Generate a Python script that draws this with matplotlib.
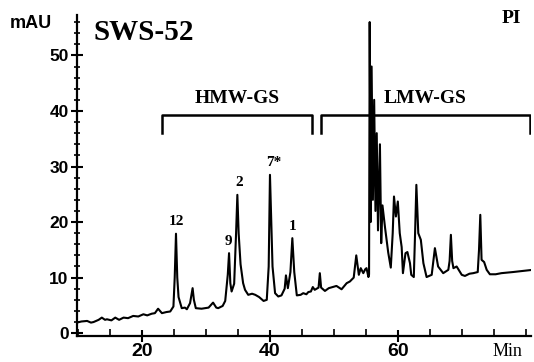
import matplotlib
matplotlib.use("Agg")
from matplotlib import pyplot as plt
from matplotlib.ticker import MultipleLocator

# retention time (min) and absorbance (mAU)
time_min = [
    9.8, 10.5, 11.4, 12.0, 12.4, 13.2, 13.7, 14.2, 14.5, 15.2, 15.8, 16.4, 17.1, 17.8,
    18.6, 19.4, 20.2, 20.8, 21.5, 22.0, 22.5, 23.1, 23.8, 24.4, 24.9, 25.1, 25.3, 25.5,
    25.7, 26.2, 26.7, 27.0, 27.5, 27.9, 28.1, 28.4, 29.3, 30.4, 31.1, 31.6, 31.9, 32.6,
    33.0, 33.4, 33.6, 33.8, 34.0, 34.4, 34.7, 34.9, 35.1, 35.4, 35.8, 36.1, 36.6, 37.2,
    37.7, 38.3, 39.0, 39.5, 39.8, 40.0, 40.2, 40.4, 40.8, 41.3, 41.8, 42.3, 42.5, 42.8,
    43.2, 43.5, 43.8, 44.2, 44.8, 45.2, 45.7, 46.0, 46.4, 46.7, 47.0, 47.6, 47.8, 48.0,
    48.6, 49.2, 49.8, 50.4, 51.2, 52.0, 52.5, 53.1, 53.5, 53.9, 54.2, 54.6, 54.9, 55.1,
    55.4, 55.5, 55.6, 55.75, 55.9, 56.1, 56.3, 56.5, 56.7, 56.9, 57.2, 57.4, 57.6, 58.0,
    58.5, 58.9, 59.2, 59.4, 59.7, 60.0, 60.3, 60.6, 60.8, 61.2, 61.5, 61.9, 62.1, 62.5,
    62.7, 62.9, 63.2, 63.6, 64.0, 64.5, 65.3, 65.8, 66.3, 67.1, 67.9, 68.1, 68.3, 68.5,
    68.7, 69.2, 70.0, 70.5, 71.2, 71.8, 72.5, 72.7, 72.9, 73.1, 73.5, 73.9, 74.4, 75.3,
    76.2, 78.0, 79.5, 81.1,
]
mau = [
    1.9, 2.1, 2.2, 1.9, 2.0, 2.4, 2.8, 2.4, 2.5, 2.3, 2.8, 2.4, 2.8, 2.7,
    3.1, 3.0, 3.4, 3.2, 3.5, 3.6, 4.4, 3.6, 3.8, 3.9, 4.8, 10.0, 17.9, 10.0,
    6.5, 4.5, 4.6, 4.3, 5.4, 8.1, 6.0, 4.5, 4.4, 4.6, 5.5, 4.6, 4.5, 4.9,
    5.8, 10.5, 14.4, 9.0, 7.5, 8.9, 18.0, 24.9, 18.0, 12.4, 9.0, 7.8, 6.9, 7.1,
    6.9, 6.5, 5.8, 6.0, 12.0, 28.5, 20.0, 12.0, 7.2, 6.6, 6.8, 8.0, 10.4, 8.1,
    11.0, 17.1, 11.0, 6.8, 6.9, 7.2, 7.0, 7.4, 7.5, 8.3, 7.8, 8.2, 10.8, 8.2,
    7.6, 8.1, 8.3, 8.5, 7.9, 9.0, 9.3, 10.0, 14.0, 10.5, 11.7, 10.8, 11.5, 11.7,
    10.1, 10.6, 56.0, 20.0, 48.0, 24.0, 42.0, 22.0, 36.0, 18.5, 34.0, 16.2, 23.0, 19.0,
    14.5, 11.8, 18.0, 24.6, 21.0, 23.7, 18.0, 15.5, 10.8, 14.4, 14.6, 12.6, 10.5, 10.1,
    18.0, 26.7, 18.0, 16.8, 12.6, 10.1, 10.5, 15.3, 12.0, 10.8, 11.4, 13.0, 17.7, 13.0,
    11.7, 12.0, 10.5, 10.3, 10.7, 10.8, 11.0, 15.0, 21.3, 13.2, 12.8, 11.4, 10.6, 10.6,
    10.8, 11.0, 11.2, 11.4,
]

# labelled HMW subunit peaks
peak_names = ["12", "9", "2", "7*", "1"]
peak_times = [25.3, 33.5, 35.2, 40.6, 43.6]
peak_heights = [17.9, 14.4, 24.9, 28.5, 17.1]

# glutenin fractions (start, end) in minutes
regions = ["HMW-GS", "LMW-GS"]
region_start = [23.1, 48.0]
region_end = [46.5, 80.6]

serif = "Liberation Serif"
sans = "Liberation Sans"

fig = plt.figure(figsize=(5.34, 3.62), dpi=100)
ax = fig.add_axes([0.144, 0.072, 0.85, 0.887])

ax.plot(time_min, mau, color="black", linewidth=1.5)

ax.set_xlim(9.8, 80.8)
ax.set_ylim(-0.5, 57.3)
ax.spines["top"].set_visible(False)
ax.spines["right"].set_visible(False)
ax.spines["left"].set_linewidth(1.6)
ax.spines["bottom"].set_linewidth(1.6)

ax.yaxis.set_major_locator(MultipleLocator(10))
ax.yaxis.set_minor_locator(MultipleLocator(2))
ax.set_xticks([20, 40, 60])
ax.xaxis.set_minor_locator(MultipleLocator(5))
ax.tick_params(axis="y", which="major", direction="inout", length=8, width=1.5, pad=2)
ax.tick_params(axis="y", which="minor", direction="inout", length=5, width=1.2)
ax.tick_params(axis="x", which="major", direction="inout", length=8, width=1.5, pad=1)
ax.tick_params(axis="x", which="minor", direction="in", length=5, width=1.2)
for lab in ax.get_yticklabels():
    lab.set_fontfamily(sans)
    lab.set_fontweight("bold")
    lab.set_fontsize(12.5)
for lab in ax.get_xticklabels():
    lab.set_fontfamily(sans)
    lab.set_fontweight("bold")
    lab.set_fontsize(14)

fig.text(0.058, 0.936, "mAU", fontfamily=sans, fontweight="bold", fontsize=13,
         ha="center", va="center")
fig.text(0.951, 0.028, "Min", fontfamily=serif, fontsize=13, ha="center", va="center")
fig.text(0.27, 0.91, "SWS-52", fontfamily=serif, fontweight="bold", fontsize=21,
         ha="center", va="center")
fig.text(0.957, 0.95, "PI", fontfamily=serif, fontweight="bold", fontsize=14,
         ha="center", va="center")

for name, t, h in zip(peak_names, peak_times, peak_heights):
    ax.text(t, h + 1.0, name, fontfamily=serif, fontweight="bold", fontsize=11,
            ha="center", va="bottom")

# brackets over the two fractions
for name, a, b in zip(regions, region_start, region_end):
    ax.plot([a, a, b, b], [36.0, 39.3, 39.3, 36.0], color="black", linewidth=1.8)
    ax.text((a + b) / 2, 40.8, name, fontfamily=serif, fontweight="bold", fontsize=14,
            ha="center", va="bottom")

plt.savefig("out.png", dpi=100)
